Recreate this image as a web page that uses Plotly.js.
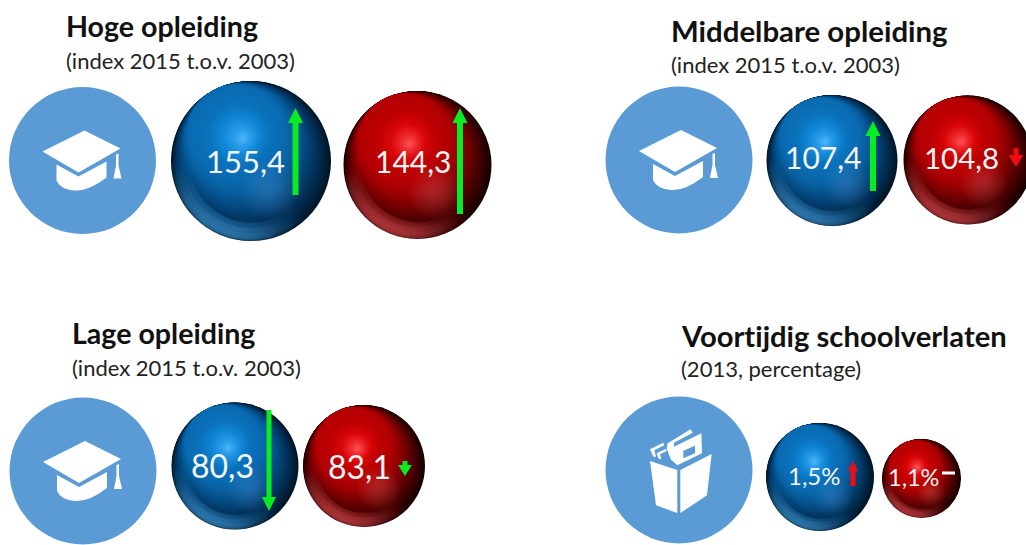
<!DOCTYPE html>
<html><head><meta charset="utf-8">
<script src="https://cdn.plot.ly/plotly-3.0.1.min.js"></script>
<style>html,body{margin:0;padding:0;background:#fff;overflow:hidden}#c{width:1026px;height:545px}
svg text{font-variant-ligatures:none;font-feature-settings:"liga" 0}</style>
</head><body><div id="c"></div>
<script>
// ---- data ----
const groupTitles = ['Hoge opleiding','Middelbare opleiding','Lage opleiding','Voortijdig schoolverlaten'];
const groupSubtitles = ['(index 2015 t.o.v. 2003)','(index 2015 t.o.v. 2003)','(index 2015 t.o.v. 2003)','(2013, percentage)'];
const blueValues = [155.4,107.4,80.3,1.5];
const redValues = [144.3,104.8,83.1,1.1];
const valueSuffix = ['','','','%'];

// ---- layout (page pixels) ----
const titlePos = [[66,26,28.6],[671,30,29.4],[72,333,28.6],[681,335,29.2]];
const subPos = [[66,60],[671,64],[72,367],[681,368]];
const iconCircles = [[82.5,160.5],[679,160],[83,471],[679,470]];
const iconR = 73.5;
const blueSpheres = [[251,161,80],[832,160.5,65.5],[235,466,63.5],[820,477,54]];
const redSpheres = [[417.5,165,74],[968,160,64.5],[364,466,61],[921.5,478.5,39.5]];
const blueLabel = [[245,161,31],[823,157,30],[222,465,32],[814,475,24]];
const redLabel = [[413,161,30],[961,157,29.5],[359,466,32],[913,477,23.5]];
const green='#08ec22', redArrow='#f00d12';
// x, tail y, tip y, head width, head height, shaft width, colour
const arrows = [
 [295.5,195,108,15,15,6,green],[460,214,108,15,15,6,green],[873,191,121,15,15,6,green],
 [1016,148,167,15,12,5,redArrow],[269,410,511,14,14,5,green],[405,461,476,14,11,5,green],
 [853,486,461,10,10,5,redArrow]];

// ---- spheres from stacked library markers ----
function hex(c){return [1,3,5].map(i=>parseInt(c.substr(i,2),16));}
function ramp(stops,t){
  for(let i=1;i<stops.length;i++){ if(t<=stops[i][0]){
    const a=stops[i-1],b=stops[i],u=(t-a[0])/(b[0]-a[0]||1),A=hex(a[1]),B=hex(b[1]);
    return 'rgb('+A.map((v,k)=>Math.round(v+(B[k]-v)*u)).join(',')+')';}}
  return stops[stops.length-1][1];
}
const paletteBlue={
  crescent:[[0,'#011626'],[0.2,'#02294a'],[0.5,'#04457a'],[0.8,'#0860a0'],[1,'#0a6ab0']],
  core:[[0,'#0a6ab0'],[0.35,'#0a72bc'],[0.6,'#1186d6'],[0.82,'#2a9cea'],[1,'#4fb8fb']],
  glow:'rgba(90,170,225,0.045)',rim:'70,165,235'};
const paletteRed={
  crescent:[[0,'#170000'],[0.2,'#3a0001'],[0.5,'#6d0002'],[0.8,'#a00003'],[1,'#b30003']],
  core:[[0,'#b30003'],[0.35,'#bf0003'],[0.6,'#d80608'],[0.82,'#ee2a2d'],[1,'#ff5358']],
  glow:'rgba(235,110,110,0.045)',rim:'240,85,90'};
const X=[],Y=[],S=[],C=[];
function put(x,y,r,c){X.push(x);Y.push(y);S.push(2*r);C.push(c);}
function sphere(cx,cy,R,p){
  const dx=-0.45,dy=-0.89,shr=0.40,N2=34;
  for(let i=0;i<=N2;i++){const t=i/N2,k=shr*R*t;
    put(cx+dx*k,cy+dy*k,R-k,ramp(p.crescent,t));}
  const cx2=cx+dx*shr*R,cy2=cy+dy*shr*R,R2=R*(1-shr);
  const hx=cx-0.10*R,hy=cy-0.28*R,N3=30;
  for(let i=0;i<=N3;i++){const t=i/N3;
    put(cx2+(hx-cx2)*t,cy2+(hy-cy2)*t,R2*(1-t)+0.5,ramp(p.core,t));}
  const gx=cx+0.24*R,gy=cy+0.36*R;
  for(let i=0;i<8;i++){put(gx,gy,R*(0.36-0.04*i),p.glow);}
  // soft reflected light along the lower rim
  [0.12,0.085,0.05,0.025].forEach(f=>{
    for(let a=-105;a<=55;a+=3){
      const th=a*Math.PI/180, r=f*R, d=R-r;
      const mid=-25,half=80,w=Math.cos(Math.min(1,Math.abs(a-mid)/half)*Math.PI/2);
      put(cx+Math.sin(th)*d,cy+Math.cos(th)*d,r,'rgba('+p.rim+','+(0.1*w*w).toFixed(3)+')');
    }
  });
}
blueSpheres.forEach(s=>sphere(s[0],s[1],s[2],paletteBlue));
redSpheres.forEach(s=>sphere(s[0],s[1],s[2],paletteRed));

const traces=[
 {type:'scatter',mode:'markers',x:iconCircles.map(c=>c[0]),y:iconCircles.map(c=>c[1]),
  marker:{size:2*iconR,color:'#5b9bd5',line:{width:0}},hoverinfo:'skip'},
 {type:'scatter',mode:'markers',x:X,y:Y,marker:{size:S,sizemode:'diameter',color:C,opacity:1,line:{width:0}},hoverinfo:'skip'}
];

// ---- icons & arrows as shapes ----
function pth(pts,cx,cy){return pts.map((p,i)=>(i===0?'M':'L')+(cx+p[0])+','+(cy+p[1])).join(' ')+' Z';}
function sh(d,color){return {type:'path',path:d,xref:'x',yref:'y',fillcolor:color,line:{width:0},layer:'above'};}
const shapes=[];
function cap(cx,cy){
  shapes.push(sh(pth([[-40,-9],[2,-30],[38,-12],[-4,12]],cx,cy),'#fff'));
  shapes.push(sh(`M${cx-26},${cy+4} L${cx-4},${cy+16} L${cx+24},${cy+1} L${cx+24},${cy+17} Q${cx+6},${cy+31} ${cx-8},${cy+30} Q${cx-22},${cy+29} ${cx-26},${cy+20} Z`,'#fff'));
  shapes.push(sh(pth([[33.5,-6],[36,-7],[36,5],[39,18],[31,18],[33.5,5]],cx,cy),'#fff'));
}
cap(iconCircles[0][0],iconCircles[0][1]);cap(iconCircles[1][0],iconCircles[1][1]);cap(iconCircles[2][0],iconCircles[2][1]);
function book(cx,cy){
  const z=(a)=>a.map(p=>[(p[0]-237)/3,(p[1]-240)/3]);
  shapes.push(sh(pth(z([[150,213],[232,240],[232,369],[168,346]]),cx,cy),'#fff'));
  shapes.push(sh(pth(z([[241,240],[335,192],[321,316],[241,369]]),cx,cy),'#fff'));
  shapes.push(sh(pth(z([[203,160],[272,118],[278,128],[222,158],[222,170],[304,130],[306,190],[232,226],[212,208],[200,175]]),cx,cy),'#fff'));
  shapes.push(sh(pth(z([[250,182],[285,167],[285,190],[250,205]]),cx,cy),'#5b9bd5'));
  shapes.push(sh(pth(z([[150,178],[190,158],[193,166],[163,181],[168,200],[160,200]]),cx,cy),'#fff'));
  shapes.push(sh(pth(z([[170,190],[198,176],[200,183],[180,193],[184,208],[176,206]]),cx,cy),'#fff'));
}
book(iconCircles[3][0],iconCircles[3][1]);
arrows.forEach(a=>{
  const [x,tail,tip,hw,hh,sw,col]=a, dir=tip<tail?1:-1, neck=tip+dir*hh;
  shapes.push(sh(pth([[x-sw/2,tail],[x+sw/2,tail],[x+sw/2,neck],[x+hw/2,neck],[x,tip],[x-hw/2,neck],[x-sw/2,neck]],0,0),col));
});
shapes.push({type:'rect',xref:'x',yref:'y',x0:942,x1:955,y0:471.5,y1:474.5,fillcolor:'#fff',line:{width:0},layer:'above'});

// ---- text ----
const F='Lato, Carlito, sans-serif';
const fmt=(v,i)=>v.toFixed(1).replace('.',',')+valueSuffix[i];
const ann=[];
function t(x,y,text,size,color,anchor,bold){ann.push({x,y,xref:'x',yref:'y',text:bold?'<b>'+text+'</b>':text,showarrow:false,xanchor:anchor,yanchor:'middle',font:{family:F,size,color},borderpad:0,borderwidth:0});}
groupTitles.forEach((s,i)=>t(titlePos[i][0],titlePos[i][1],s,titlePos[i][2],'#111','left',true));
groupSubtitles.forEach((s,i)=>t(subPos[i][0],subPos[i][1],s,22,'#222','left',false));
blueValues.forEach((v,i)=>t(blueLabel[i][0],blueLabel[i][1],fmt(v,i),blueLabel[i][2],'#f4f4f4','center',false));
redValues.forEach((v,i)=>t(redLabel[i][0],redLabel[i][1],fmt(v,i),redLabel[i][2],'#f4f4f4','center',false));

Plotly.newPlot('c',traces,{
  width:1026,height:545,margin:{l:0,r:0,t:0,b:0},showlegend:false,
  paper_bgcolor:'#fff',plot_bgcolor:'#fff',
  xaxis:{range:[0,1026],visible:false,fixedrange:true},
  yaxis:{range:[545,0],visible:false,fixedrange:true},
  shapes,annotations:ann,hovermode:false
},{displayModeBar:false,staticPlot:true});
</script></body></html>
